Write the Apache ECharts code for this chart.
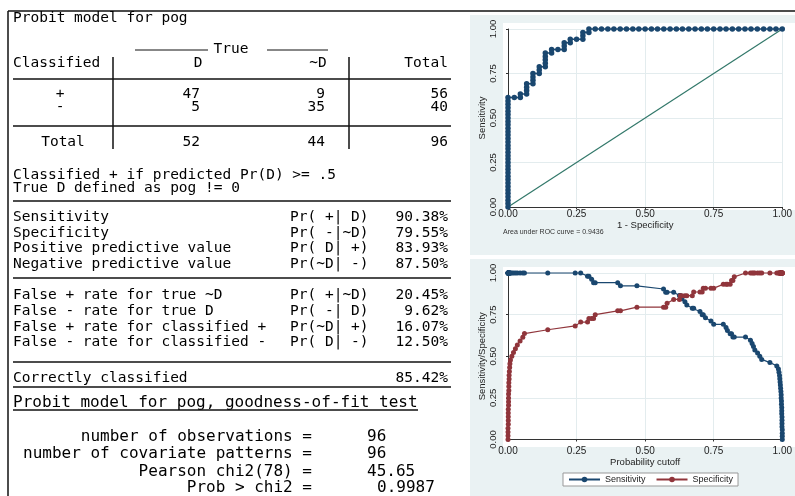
<!DOCTYPE html>
<html>
<head>
<meta charset="utf-8">
<script src="https://cdn.jsdelivr.net/npm/echarts@6/dist/echarts.min.js"></script>
<style>
  html, body { margin: 0; padding: 0; background: #fff; }
  #main { width: 795px; height: 496px; }
</style>
</head>
<body>
<div id="main"></div>
<script>
// ---- classification table (probit model for pog) ----
const colHeads = ['D', '~D', 'Total'];
const rowHeads = ['+', '-', 'Total'];
const rowPlus = [47, 9, 56];
const rowMinus = [5, 35, 40];
const rowTotal = [52, 44, 96];

const statLabels = ['Sensitivity', 'Specificity', 'Positive predictive value', 'Negative predictive value'];
const statConds = ['Pr( +| D)', 'Pr( -|~D)', 'Pr( D| +)', 'Pr(~D| -)'];
const statValues = ['90.38%', '79.55%', '83.93%', '87.50%'];

const errLabels = ['False + rate for true ~D', 'False - rate for true D', 'False + rate for classified +', 'False - rate for classified -'];
const errConds = ['Pr( +|~D)', 'Pr( -| D)', 'Pr(~D| +)', 'Pr( D| -)'];
const errValues = ['20.45%', '9.62%', '16.07%', '12.50%'];

const correctValue = '85.42%';

const gofLabels = ['number of observations =', 'number of covariate patterns =', 'Pearson chi2(78) =', 'Prob > chi2 ='];
const gofValues = ['96', '96', '45.65', '0.9987'];

// ---- ROC curve (1 - specificity, sensitivity) ----
const rocFpr = [
  0, 0, 0, 0, 0, 0, 0, 0, 0, 0, 0, 0, 0, 0, 0, 0, 0, 0, 0, 0, 0, 0, 0, 0, 0, 0, 0, 0, 0, 0, 0, 0, 0,
  .023, .045, .045,
  .068, .068, .068, .068,
  .091, .091, .091, .091,
  .114, .114, .114,
  .136, .136, .136, .136, .136,
  .159, .159,
  .182,
  .205, .205, .205,
  .227, .227,
  .25,
  .273, .273, .273,
  .295, .295,
  .318, .341, .364, .386, .409, .432, .455, .477, .5, .523, .545, .568, .591, .614, .636, .659,
  .682, .705, .727, .75, .773, .795, .818, .841, .864, .886, .909, .932, .955, .977, 1
];
const rocTpr = [
  0, .019, .038, .058, .077, .096, .115, .135, .154, .173, .192, .212, .231, .25, .269, .288, .308,
  .327, .346, .365, .385, .404, .423, .442, .462, .481, .5, .519, .538, .558, .577, .596, .615,
  .615, .615, .635,
  .635, .654, .673, .692,
  .692, .712, .731, .75,
  .75, .769, .788,
  .788, .808, .827, .846, .865,
  .865, .885,
  .885,
  .885, .904, .923,
  .923, .942,
  .942,
  .942, .962, .981,
  .981, 1,
  1, 1, 1, 1, 1, 1, 1, 1, 1, 1, 1, 1, 1, 1, 1, 1, 1, 1, 1, 1, 1, 1, 1, 1, 1, 1, 1, 1, 1, 1, 1
];
const refLine = [0, 1];
const aucText = 'Area under ROC curve = 0.9436';

// ---- sensitivity / specificity vs probability cutoff ----
const cutoffs = [
  0, 0, 0, 0, .001, .001, .001, .001, .001, .002,
  .002, .002, .002, .003, .003, .003, .004, .004, .005, .006,
  .007, .009, .014, .02, .027, .034, .044, .054, .06, .145,
  .245, .265, .29, .295, .305, .312, .318, .40, .41, .47,
  .567, .575, .58, .604, .625, .628, .634, .645, .652, .672,
  .677, .70, .708, .712, .72, .74, .75, .785, .795, .80,
  .81, .815, .82, .825, .866, .884, .89, .895, .90, .91,
  .918, .925, .955, .98, .986, .988, .99, .991, .992, .993,
  .994, .995, .996, .996, .997, .997, .998, .998, .998, .999,
  .999, .999, .999, 1, 1, 1, 1
];
const sensitivity = [
  1, 1, 1, 1, 1, 1, 1, 1, 1, 1, 1, 1, 1, 1, 1, 1, 1, 1, 1, 1, 1, 1, 1, 1, 1, 1, 1, 1, 1, 1, 1, 1,
  .981, .981, .962, .942, .942, .942, .923, .923,
  .904, .885, .885, .885, .865, .865, .846, .827, .808, .788,
  .788, .769, .75, .75, .731, .712, .692, .692, .673, .654,
  .635, .635, .615, .615, .615, .596, .577, .558, .538, .519,
  .5, .481, .462, .442, .423, .404, .385, .365, .346, .327,
  .308, .288, .269, .25, .231, .212, .192, .173, .154, .135,
  .115, .096, .077, .058, .038, .019, 0
];
const specificity = [
  0, .023, .045, .068, .091, .114, .136, .159, .182, .205,
  .227, .25, .273, .295, .318, .341, .364, .386, .409, .432,
  .455, .477, .5, .523, .545, .568, .591, .614, .636, .659,
  .682, .705, .705, .727, .727, .727, .75, .773, .773, .795,
  .795, .795, .818, .841, .841, .864, .864, .864, .864, .864,
  .886, .886, .886, .909, .909, .909, .909, .932, .932, .932,
  .932, .955, .955, .977, 1, 1, 1, 1, 1, 1,
  1, 1, 1, 1, 1, 1, 1, 1, 1, 1,
  1, 1, 1, 1, 1, 1, 1, 1, 1, 1,
  1, 1, 1, 1, 1, 1, 1
];

const navy = '#1a476f';
const maroon = '#90353b';
const refGreen = '#32786a';
const panelBg = '#eaf2f3';
const gridColor = '#e3ecee';
const mono = 'DejaVu Sans Mono';
const sans = 'Liberation Sans';

function txt(s, x, y, opt) {
  opt = opt || {};
  const align = opt.align || 'left';
  return {
    type: 'text', x: x, y: y, z: 5, silent: true,
    style: {
      text: s,
      fill: opt.color || '#000',
      font: (opt.size || 14.5) + 'px "' + (opt.family || mono) + '"',
      textAlign: align, align: align,
      textVerticalAlign: 'middle', verticalAlign: 'middle'
    }
  };
}
function seg(x1, y1, x2, y2, w) {
  return {
    type: 'line', z: 5, silent: true,
    shape: { x1: x1, y1: y1, x2: x2, y2: y2 },
    style: { stroke: '#111', lineWidth: w || 1.5 }
  };
}
function box(x, y, w, h, fill) {
  return { type: 'rect', z: -10, silent: true, shape: { x: x, y: y, width: w, height: h }, style: { fill: fill } };
}

const g = [];
// outer frame of the results window
g.push(seg(8, 11, 795, 11, 1.5), seg(8, 11, 8, 496, 1.5));
// graph panels
g.push(box(470, 15, 325, 240, panelBg), box(503, 23, 292, 187, '#fff'));
g.push(box(470, 259, 325, 237, panelBg), box(503, 267, 292, 180, '#fff'));

// table
g.push(txt('Probit model for pog', 13, 18));
g.push(txt('True', 231, 49, { align: 'center' }), seg(135, 50, 208, 50, 1), seg(267, 50, 328, 50, 1));
g.push(txt('Classified', 13, 63));
const colX = [200, 325, 448];
g.push(txt(colHeads[0], 198, 63, { align: 'center' }), txt(colHeads[1], 318, 63, { align: 'center' }),
       txt(colHeads[2], 448, 63, { align: 'right' }));
g.push(seg(13, 79, 451, 79), seg(13, 126, 451, 126));
g.push(seg(113, 57, 113, 149), seg(349, 57, 349, 149));
const rowY = [94, 107, 142];
[rowPlus, rowMinus, rowTotal].forEach(function (row, i) {
  g.push(txt(rowHeads[i], i === 2 ? 63 : 60, rowY[i], { align: 'center' }));
  row.forEach(function (v, j) { g.push(txt(String(v), colX[j], rowY[i], { align: 'right' })); });
});
g.push(txt('Classified + if predicted Pr(D) >= .5', 13, 175));
g.push(txt('True D defined as pog != 0', 13, 188));

// summary statistics
g.push(seg(13, 201, 451, 201));
const statY = [217, 233, 248, 264];
statLabels.forEach(function (s, i) {
  g.push(txt(s, 13, statY[i]), txt(statConds[i], 290, statY[i]), txt(statValues[i], 448, statY[i], { align: 'right' }));
});
g.push(seg(13, 278, 451, 278));
const errY = [295, 311, 327, 342];
errLabels.forEach(function (s, i) {
  g.push(txt(s, 13, errY[i]), txt(errConds[i], 290, errY[i]), txt(errValues[i], 448, errY[i], { align: 'right' }));
});
g.push(seg(13, 362, 451, 362));
g.push(txt('Correctly classified', 13, 378), txt(correctValue, 448, 378, { align: 'right' }));
g.push(seg(13, 387, 451, 387));

// goodness-of-fit
g.push(txt('Probit model for pog, goodness-of-fit test', 13, 403, { size: 16 }), seg(13, 410, 418, 410, 1.3));
const gofY = [437, 454, 472, 488];
const gofX = [367, 367, 367, 377];
gofLabels.forEach(function (s, i) {
  g.push(txt(s, 312, gofY[i], { size: 16, align: 'right' }), txt(gofValues[i], gofX[i], gofY[i], { size: 16 }));
});

g.push(txt(aucText, 503, 232, { size: 7, family: sans, color: '#333' }));

const axisBase = {
  type: 'value', min: 0, max: 1, interval: 0.25,
  axisLine: { show: true, lineStyle: { color: '#333', width: 1 } },
  axisTick: { show: true, length: 2, lineStyle: { color: '#333' } },
  splitLine: { show: true, lineStyle: { color: gridColor, width: 1 } },
  nameLocation: 'middle',
  nameTextStyle: { fontFamily: sans, fontSize: 9.5, color: '#222' }
};
function xAx(grid, offset, margin, name, gap) {
  return Object.assign({}, axisBase, {
    gridIndex: grid, offset: offset, name: name, nameGap: gap,
    axisLabel: { fontFamily: sans, fontSize: 10, color: '#222', margin: margin,
                 formatter: function (v) { return v.toFixed(2); } }
  });
}
function yAx(grid, name, gap) {
  return Object.assign({}, axisBase, {
    gridIndex: grid, offset: 5, name: name, nameGap: gap, nameRotate: 90,
    axisLabel: { fontFamily: sans, fontSize: 9.5, color: '#222', margin: 5, rotate: 90,
                 formatter: function (v) { return v.toFixed(2); } }
  });
}
function pairs(xs, ys) { return xs.map(function (x, i) { return [x, ys[i]]; }); }

const chart = echarts.init(document.getElementById('main'));
chart.setOption({
  animation: false,
  backgroundColor: '#fff',
  textStyle: { fontFamily: sans },
  graphic: { elements: g },
  grid: [
    { left: 508, top: 29, width: 280, height: 178 },
    { left: 508, top: 273, width: 279, height: 166.5 }
  ],
  xAxis: [xAx(0, 2, 0, '1 - Specificity', 10), xAx(1, 6, 1, 'Probability cutoff', 11)],
  yAxis: [yAx(0, 'Sensitivity', 14), yAx(1, 'Sensitivity/Specificity', 14)],
  legend: {
    data: ['Sensitivity', 'Specificity'],
    left: 563, top: 473,
    itemWidth: 31, itemHeight: 7, itemGap: 10,
    padding: [2, 5],
    borderColor: '#999', borderWidth: 1, borderRadius: 0,
    backgroundColor: '#fff',
    textStyle: { fontFamily: sans, fontSize: 9, color: '#222' }
  },
  series: [
    {
      name: 'ROC', type: 'line', xAxisIndex: 0, yAxisIndex: 0, clip: false,
      data: pairs(rocFpr, rocTpr),
      symbol: 'circle', symbolSize: 5.5, itemStyle: { color: navy },
      lineStyle: { color: navy, width: 1.6 }, z: 4
    },
    {
      name: 'Reference', type: 'line', xAxisIndex: 0, yAxisIndex: 0, clip: false,
      data: pairs(refLine, refLine), symbol: 'none',
      lineStyle: { color: refGreen, width: 1.2 }, z: 3
    },
    {
      name: 'Sensitivity', type: 'line', xAxisIndex: 1, yAxisIndex: 1, clip: false,
      data: pairs(cutoffs, sensitivity),
      symbol: 'circle', symbolSize: 5, itemStyle: { color: navy },
      lineStyle: { color: navy, width: 1.2 }, z: 4
    },
    {
      name: 'Specificity', type: 'line', xAxisIndex: 1, yAxisIndex: 1, clip: false,
      data: pairs(cutoffs, specificity),
      symbol: 'circle', symbolSize: 5, itemStyle: { color: maroon },
      lineStyle: { color: maroon, width: 1.2 }, z: 4
    }
  ]
});
</script>
</body>
</html>
